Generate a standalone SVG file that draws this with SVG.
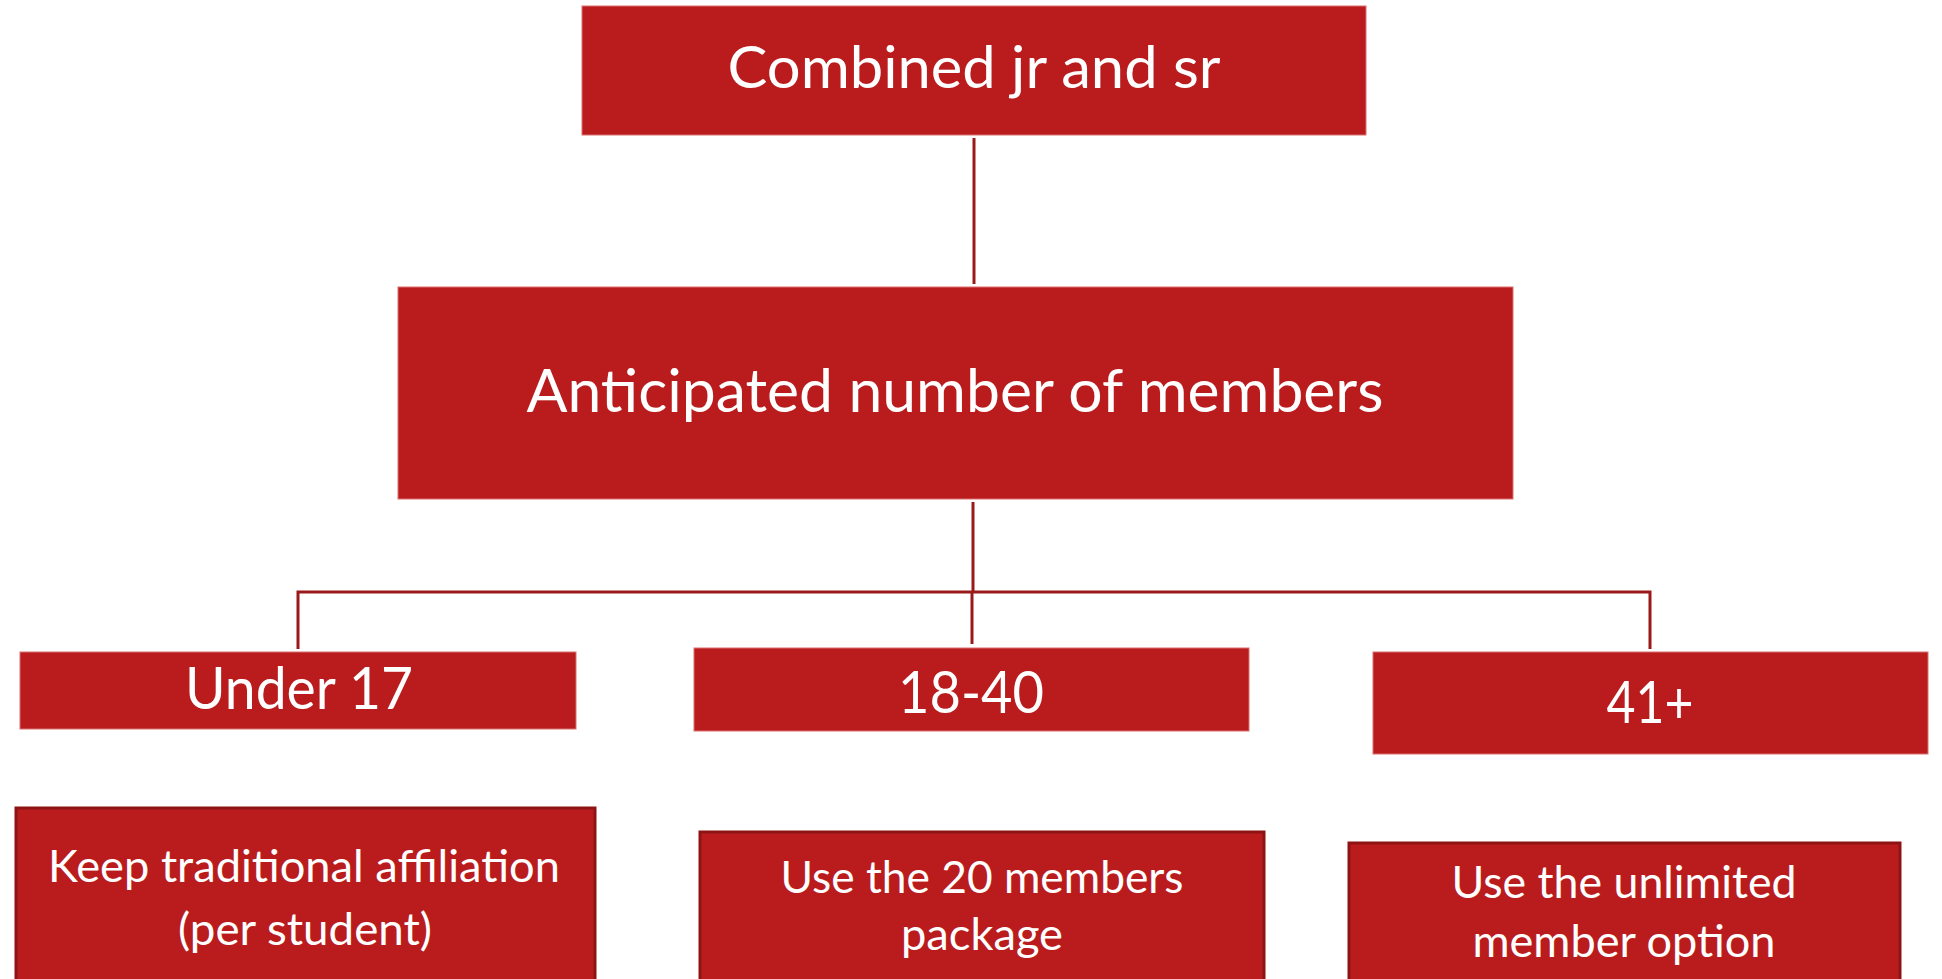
<svg xmlns="http://www.w3.org/2000/svg" width="1942" height="979" viewBox="0 0 1942 979">
<style>
.n{fill:#BA1C1E;stroke:#D9706F;stroke-width:1}
.o{fill:#BA1C1E;stroke:#8E1414;stroke-width:3}
.t{font-family:Lato,"Open Sans","Liberation Sans",sans-serif;fill:#FFFFFF;text-anchor:middle}
.c{fill:none;stroke:#9A1A1A;stroke-width:3}
</style>
<rect width="1942" height="979" fill="#FFFFFF"/>
<g id="connectors">
<line class="c" x1="974" y1="138" x2="974" y2="284"/>
<line class="c" x1="973" y1="502" x2="973" y2="592"/>
<polyline class="c" points="298,649 298,592 1650,592 1650,649"/>
<line class="c" x1="972" y1="592" x2="972" y2="644"/>
</g>
<g id="node-combined">
<rect class="n" x="582" y="6" width="784" height="129"/>
<text class="t" x="974" y="88" font-size="58" textLength="493" lengthAdjust="spacingAndGlyphs">Combined jr and sr</text>
</g>
<g id="node-anticipated">
<rect class="n" x="398" y="287" width="1115" height="212"/>
<text class="t" x="955" y="412" font-size="60" textLength="857" lengthAdjust="spacingAndGlyphs">Anticipated number of members</text>
</g>
<g id="node-under17">
<rect class="n" x="20" y="652" width="556" height="77"/>
<text class="t" x="299" y="709" font-size="58" textLength="228" lengthAdjust="spacingAndGlyphs">Under 17</text>
</g>
<g id="node-18-40">
<rect class="n" x="694" y="648" width="555" height="83"/>
<text class="t" x="971" y="713" font-size="58" textLength="146" lengthAdjust="spacingAndGlyphs">18-40</text>
</g>
<g id="node-41plus">
<rect class="n" x="1373" y="652" width="555" height="102"/>
<text class="t" x="1650" y="723" font-size="58" textLength="87" lengthAdjust="spacingAndGlyphs">41+</text>
</g>
<g id="node-traditional">
<rect class="o" x="16" y="808" width="579" height="200"/>
<text class="t" x="304" y="882" font-size="45" textLength="512" lengthAdjust="spacingAndGlyphs">Keep traditional affiliation</text>
<text class="t" x="305" y="945" font-size="45" textLength="254" lengthAdjust="spacingAndGlyphs">(per student)</text>
</g>
<g id="node-20members">
<rect class="o" x="700" y="832" width="564" height="200"/>
<text class="t" x="982" y="893" font-size="45" textLength="403" lengthAdjust="spacingAndGlyphs">Use the 20 members</text>
<text class="t" x="982" y="950" font-size="45" textLength="162" lengthAdjust="spacingAndGlyphs">package</text>
</g>
<g id="node-unlimited">
<rect class="o" x="1349" y="843" width="551" height="200"/>
<text class="t" x="1624" y="898" font-size="45" textLength="345" lengthAdjust="spacingAndGlyphs">Use the unlimited</text>
<text class="t" x="1624" y="957" font-size="45" textLength="303" lengthAdjust="spacingAndGlyphs">member option</text>
</g>
</svg>
